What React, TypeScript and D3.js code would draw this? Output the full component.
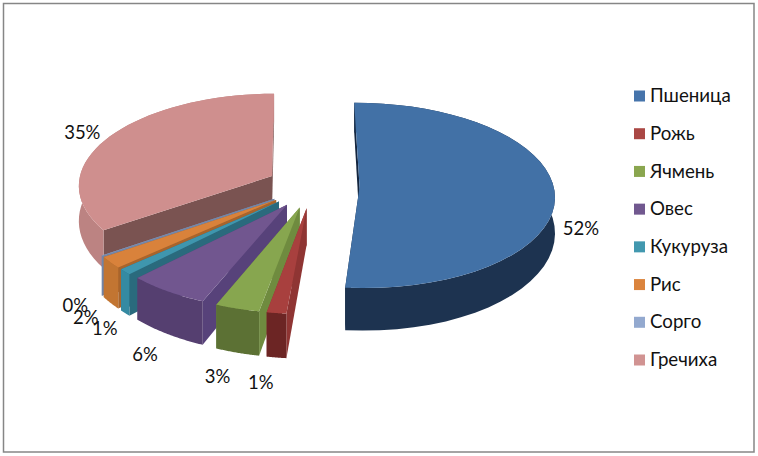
import { useEffect, useRef } from 'react'
import * as d3 from 'd3'

// chart data
const categories = ['Пшеница', 'Рожь', 'Ячмень', 'Овес', 'Кукуруза', 'Рис', 'Сорго', 'Гречиха']
const shares = [51.55, 1.45, 3.3, 6.1, 1.0, 2.0, 0.05, 34.55]

// colours for each slice
const topColors = ['#4271a6', '#a8403e', '#87a64f', '#71568f', '#3f96ae', '#d9823b', '#93a9cf', '#cf8f8e']
const wallColors = ['#1d3350', '#6c2524', '#5c7134', '#553f70', '#358aa2', '#c27532', '#7386a8', '#bc8382']
const cutColors = ['#14263f', '#8f3533', '#6f8b3f', '#57427a', '#2a6a7d', '#a8642c', '#7386a8', '#7a5351']
const swatchColors = ['#4674ab', '#aa4744', '#8aa64f', '#71588f', '#4298af', '#db843d', '#93a9cf', '#d19392']

// small layout corrections for the value labels
const labelNudge: [number, number][] = [[-1, 2], [-11, 7], [-10, 7], [-4, 6], [3, 4], [0, 4], [-1, 1], [-6, 1]]

const WIDTH = 758
const HEIGHT = 456

const cx = 313
const cy = 186
const radius = 194 // px across
const foreshorten = 91.7 // px down for one radius
const persp = 0.092
const explode = 0.24
const depth = 35
const rotation = -0.008 // first slice starts just before 12 o'clock

type P = [number, number]

// plane coordinates (radius = 1, z towards the viewer) to screen
const project = (x: number, z: number, down = 0): P => {
  const s = 1 / (1 - persp * z)
  return [cx + radius * x * s, cy + foreshorten * z * s + down * s * s]
}

const Chart = () => {
  const svgRef = useRef<SVGSVGElement | null>(null)

  useEffect(() => {
    const svg = d3.select(svgRef.current)
    svg.selectAll('*').remove()

    svg
      .append('rect')
      .attr('x', 3.5)
      .attr('y', 3.5)
      .attr('width', 750.5)
      .attr('height', 448.5)
      .attr('fill', '#fff')
      .attr('stroke', '#868686')
      .attr('stroke-width', 1.5)

    const total = d3.sum(shares)
    const slices = d3
      .pie<number>()
      .sort(null)
      .startAngle(rotation)
      .endAngle(rotation + 2 * Math.PI)
      .value((d) => d)(shares)

    const line = d3.line<P>().curve(d3.curveLinearClosed)

    // back to front: Гречиха first, then round the front, Пшеница last
    const order = [7, 6, 5, 4, 3, 2, 1, 0]
    order.forEach((i) => {
      const sl = slices[i]
      const mid = (sl.startAngle + sl.endAngle) / 2
      const ox = explode * Math.sin(mid)
      const oz = -explode * Math.cos(mid)
      const rim = d3.range(0, 41).map((k) => {
        const a = sl.startAngle + ((sl.endAngle - sl.startAngle) * k) / 40
        return [ox + Math.sin(a), oz - Math.cos(a)]
      })
      const top = rim.map(([x, z]) => project(x, z))
      const bottom = rim.map(([x, z]) => project(x, z, depth))
      const apex = project(ox, oz)
      const apexLow = project(ox, oz, depth)
      const g = svg.append('g')

      // end cut, start cut, outer wall, top face
      g.append('path')
        .attr('d', line([apex, top[40], bottom[40], apexLow]))
        .attr('fill', cutColors[i])
      g.append('path')
        .attr('d', line([apex, top[0], bottom[0], apexLow]))
        .attr('fill', cutColors[i])
      g.append('path')
        .attr('d', line([...top, ...bottom.slice().reverse()]))
        .attr('fill', wallColors[i])
      g.append('path')
        .attr('d', line([apex, ...top]))
        .attr('fill', topColors[i])
    })

    // value labels, drawn above every slice
    slices.forEach((sl, i) => {
      const mid = (sl.startAngle + sl.endAngle) / 2
      const r = explode + 1.14
      const front = Math.cos(mid) < 0.2
      const [x, y] = project(r * Math.sin(mid), -r * Math.cos(mid), front ? depth : 0)
      svg
        .append('text')
        .attr('x', x + labelNudge[i][0])
        .attr('y', y + labelNudge[i][1])
        .attr('dy', '0.35em')
        .attr('text-anchor', 'middle')
        .style('font-family', 'Lato, "Open Sans", sans-serif')
        .style('font-size', '18.5px')
        .style('fill', '#111')
        .text(d3.format('.0f')((shares[i] / total) * 100) + '%')
    })

    // legend
    const legendY = d3
      .scalePoint<string>()
      .domain(categories)
      .range([96, 360])
    const legend = svg
      .append('g')
      .selectAll('g')
      .data(categories)
      .enter()
      .append('g')
      .attr('transform', (d) => `translate(634,${legendY(d)})`)
    legend
      .append('rect')
      .attr('y', -5.5)
      .attr('width', 11)
      .attr('height', 11)
      .attr('fill', (d, i) => swatchColors[i])
    legend
      .append('text')
      .attr('x', 16)
      .attr('dy', '0.33em')
      .style('font-family', 'Lato, "Open Sans", sans-serif')
      .style('font-size', '18.7px')
      .style('fill', '#111')
      .text((d) => d)
  }, [])

  return (
    <svg
      ref={svgRef}
      width={WIDTH}
      height={HEIGHT}
      style={{ position: 'fixed', left: 0, top: 0, display: 'block' }}
    />
  )
}

export default function App() {
  return <Chart />
}
